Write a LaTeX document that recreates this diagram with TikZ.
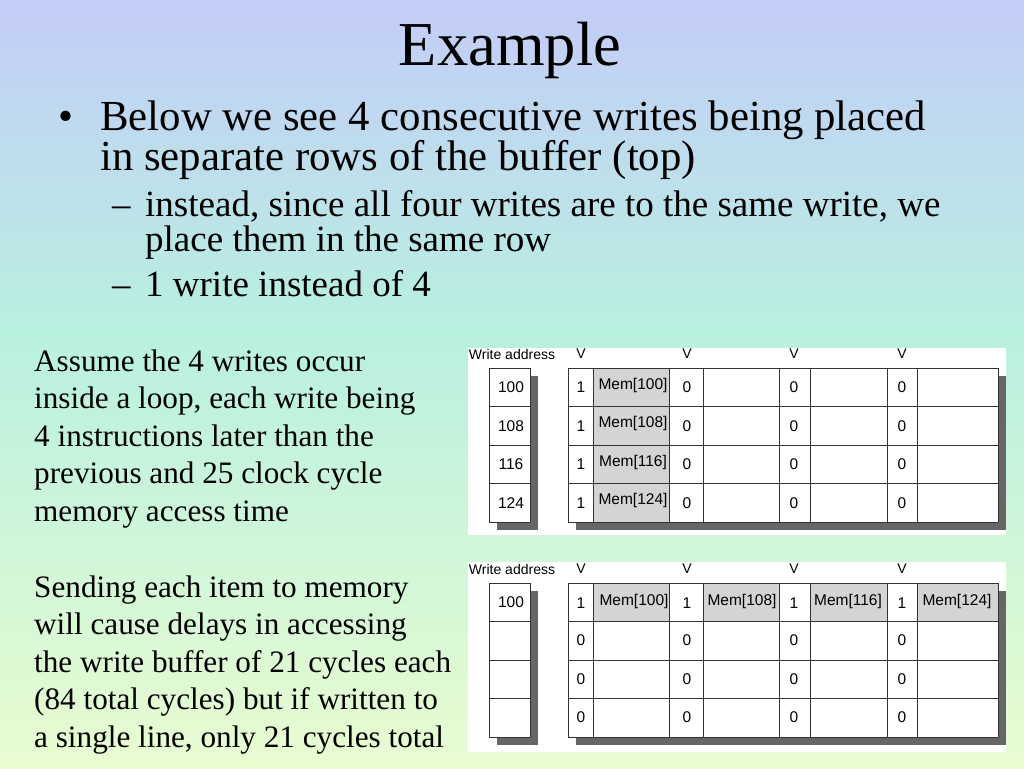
\documentclass[tikz,border=0pt]{standalone}
\usepackage{fontspec}
\setmainfont{Liberation Serif}
\newfontfamily\tabfont{Liberation Sans}
\begin{document}
\begin{tikzpicture}[x=1pt,y=-1pt,
  tx/.style={font=\fontsize{15.5}{15.5}\selectfont\tabfont, inner sep=0pt},
  hx/.style={font=\fontsize{14}{14}\selectfont\tabfont, inner sep=0pt},
  cellbox/.style={draw=black!80, line width=0.6pt},
  shade/.style={fill=black!60},
  body/.style={anchor=base west, inner sep=0pt}]
\useasboundingbox (0,0) rectangle (1024,768);
\fill[top color={rgb,255:red,196;green,204;blue,248}, bottom color={rgb,255:red,184;green,240;blue,224}] (0,0) rectangle (1024,330);
\fill[top color={rgb,255:red,184;green,240;blue,224}, bottom color={rgb,255:red,232;green,252;blue,208}] (0,329) rectangle (1024,768);
% texts
\node[inner sep=0pt, font=\fontsize{62.5}{62.5}\selectfont] (title) at (510,50) {Example};
\node[body, font=\fontsize{42.8}{42.8}\selectfont] (b1) at (58,130) {•};
\node[body, font=\fontsize{42.8}{42.8}\selectfont] (l1) at (100,130) {Below we see 4 consecutive writes being placed};
\node[body, font=\fontsize{42.8}{42.8}\selectfont] (l2) at (100,170) {in separate rows of the buffer (top)};
\node[body, font=\fontsize{37}{37}\selectfont] (d1) at (112,216) {–};
\node[body, font=\fontsize{37}{37}\selectfont] (l3) at (145,216) {instead, since all four writes are to the same write, we};
\node[body, font=\fontsize{37}{37}\selectfont] (l4) at (145,251) {place them in the same row};
\node[body, font=\fontsize{37}{37}\selectfont] (d2) at (112,296) {–};
\node[body, font=\fontsize{37}{37}\selectfont] (l5) at (145,296) {1 write instead of 4};
\foreach \t [count=\i] in {Assume the 4 writes occur, {inside a loop, each write being}, 4 instructions later than the, previous and 25 clock cycle, memory access time}
  \node[body, font=\fontsize{31.2}{31.2}\selectfont] (p\i) at (34,371+37.5*\i-37.5) {\t};
\foreach \t [count=\i] in {Sending each item to memory, will cause delays in accessing, the write buffer of 21 cycles each, (84 total cycles) but if written to, {a single line, only 21 cycles total}}
  \node[body, font=\fontsize{31.2}{31.2}\selectfont] (q\i) at (34,597+37.5*\i-37.5) {\t};
% panels
\fill[white] (468,348) rectangle (1006,535);
\fill[white] (468,562) rectangle (1006,752);
\foreach \top/\hy/\nm in {368/354/a,583/569/b}{
  \pgfmathsetmacro{\bot}{\top+154}
  \fill[shade] (497,\top+8) rectangle (538,\bot+8);
  \fill[shade] (576,\top+8) rectangle (1006,\bot+8);
  \node[hx] (wa\nm) at (512,\hy) {Write address};
  \foreach \vx in {581,687,794,902} \node[hx] at (\vx,\hy) {V};
}
% top table
\fill[white] (489,368) rectangle (530,522);
\fill[white] (568,368) rectangle (998,522);
\fill[black!17] (593,368) rectangle (669,522);
\foreach \r [count=\i] in {100,108,116,124}{
  \pgfmathsetmacro{\yy}{368+38.5*\i-19.25}
  \node[tx] (ta\i) at (511,\yy) {\r};
  \node[tx] at (581,\yy) {1};
  \node[tx] (tm\i) at (633,\yy-2) {Mem[\r]};
  \foreach \vx in {687,794,902} \node[tx] at (\vx,\yy) {0};
}
\foreach \yy in {368,406.5,445,483.5,522} {\draw[cellbox] (489,\yy) -- (530,\yy); \draw[cellbox] (568,\yy) -- (998,\yy);}
\foreach \xx in {489,530} \draw[cellbox] (\xx,368) -- (\xx,522);
\foreach \xx in {568,593,669,703,779,810,887,917,998} \draw[cellbox] (\xx,368) -- (\xx,522);
% bottom table
\fill[white] (489,583) rectangle (530,737);
\fill[white] (568,583) rectangle (998,737);
\foreach \xa/\xb in {593/669,703/779,810/887,917/998} \fill[black!17] (\xa,583) rectangle (\xb,621.5);
\node[tx] (ba1) at (511,602) {100};
\foreach \vx/\mx/\m in {581/634/100,687/742/108,794/848/116,902/957/124}{
  \node[tx] at (\vx,603) {1};
  \node[tx] at (\mx,601) {Mem[\m]};
  \foreach \k in {1,2,3} \node[tx] at (\vx,602+38.5*\k) {0};
}
\foreach \yy in {583,621.5,660,698.5,737} {\draw[cellbox] (489,\yy) -- (530,\yy); \draw[cellbox] (568,\yy) -- (998,\yy);}
\foreach \xx in {489,530} \draw[cellbox] (\xx,583) -- (\xx,737);
\foreach \xx in {568,593,669,703,779,810,887,917,998} \draw[cellbox] (\xx,583) -- (\xx,737);
\end{tikzpicture}
\end{document}
